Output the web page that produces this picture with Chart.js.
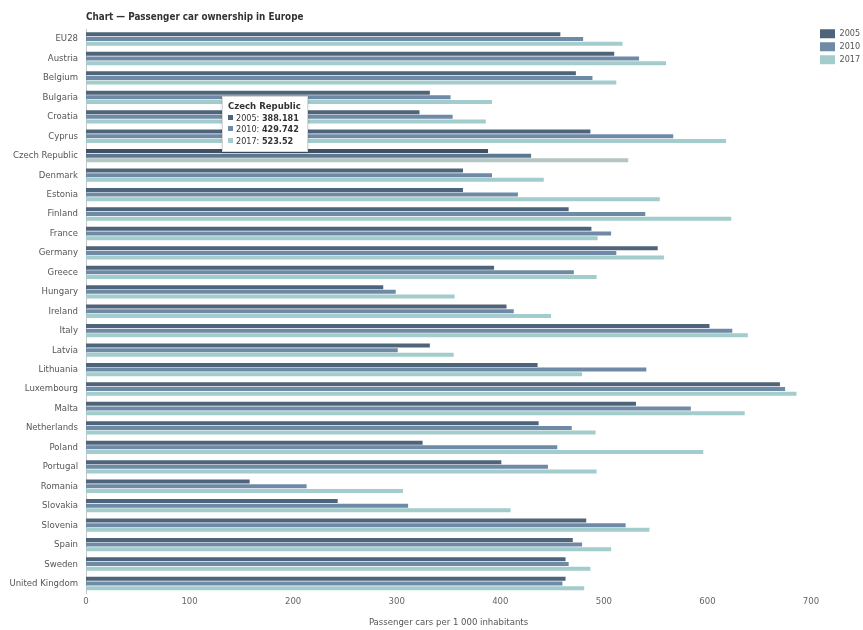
<!DOCTYPE html>
<html>
<head>
<meta charset="utf-8">
<script src="https://cdn.jsdelivr.net/npm/chart.js@4"></script>
<style>
  body { margin: 0; background: #fff; }
  #wrap { position: relative; width: 863px; height: 630px; }
  #tip {
    position: absolute; opacity: 0; pointer-events: none;
    background: #fff; border: 1px solid #d6d6d6; box-shadow: 0 1px 3px rgba(0,0,0,0.18);
    padding: 3px 6px 4px 5px; color: #333;
    font: 9px "DejaVu Sans Condensed", "Liberation Sans Narrow", sans-serif;
    line-height: 11.5px; white-space: nowrap;
  }
  #tip .ttl { font-weight: bold; font-size: 9.5px; margin-bottom: 1px; }
  #tip .sw { display: inline-block; width: 5px; height: 5px; margin-right: 3px; vertical-align: 1px; }
</style>
</head>
<body>
<div id="wrap"><canvas id="chart"></canvas><div id="tip"></div></div>
<script>
const countries = ['EU28', 'Austria', 'Belgium', 'Bulgaria', 'Croatia', 'Cyprus', 'Czech Republic',
  'Denmark', 'Estonia', 'Finland', 'France', 'Germany', 'Greece', 'Hungary', 'Ireland', 'Italy',
  'Latvia', 'Lithuania', 'Luxembourg', 'Malta', 'Netherlands', 'Poland', 'Portugal', 'Romania',
  'Slovakia', 'Slovenia', 'Spain', 'Sweden', 'United Kingdom'];
const cars2005 = [458, 510, 473, 332, 322, 487, 388.181, 364, 364, 466, 488, 552, 394, 287, 406, 602,
  332, 436, 670, 531, 437, 325, 401, 158, 243, 483, 470, 463, 463];
const cars2010 = [480, 534, 489, 352, 354, 567, 429.742, 392, 417, 540, 507, 512, 471, 299, 413, 624,
  301, 541, 675, 584, 469, 455, 446, 213, 311, 521, 479, 466, 460];
const cars2017 = [518, 560, 512, 392, 386, 618, 523.52, 442, 554, 623, 494, 558, 493, 356, 449, 639,
  355, 479, 686, 636, 492, 596, 493, 306, 410, 544, 507, 487, 481];
const seriesLabels = ['2005', '2010', '2017'];
const seriesColors = ['#4e647a', '#6e8aa6', '#a2cdcc'];
const hoverColors = ['#3f5163', '#5d7790', '#b3c5c4'];
const focusCountry = 'Czech Republic';

const fontFamily = '"DejaVu Sans Condensed", "Liberation Sans Narrow", sans-serif';
const legendPad = 4;
const rightGap = 52;   // space kept right of the plot for the legend

const titlePlugin = {
  id: 'sideTitle',
  afterLayout(chart) {
    // nudge the legend: a bit away from the plot, a bit higher
    const lg = chart.legend;
    if (lg) {
      lg.left += 5; lg.right += 5;
      lg.top -= 4; lg.bottom -= 4;
    }
  },
  afterDraw(chart) {
    const ctx = chart.ctx;
    ctx.save();
    ctx.font = 'bold 9.8px ' + fontFamily;
    ctx.fillStyle = '#333';
    ctx.textBaseline = 'middle';
    ctx.fillText('Chart \u2014 Passenger car ownership in Europe', chart.chartArea.left, 17);
    ctx.restore();
  }
};

function externalTip(context) {
  const tip = context.tooltip;
  const el = document.getElementById('tip');
  if (tip.opacity === 0) { el.style.opacity = 0; return; }
  const rows = tip.dataPoints.map(dp =>
    '<div><span class="sw" style="background:' + seriesColors[dp.datasetIndex] + '"></span>' +
    dp.dataset.label + ': <b>' + dp.formattedValue + '</b></div>').join('');
  el.innerHTML = '<div class="ttl">' + tip.title[0] + '</div>' + rows;
  const area = context.chart.chartArea;
  el.style.left = (area.left + 136) + 'px';
  el.style.top = (area.top + 67) + 'px';
  el.style.opacity = 1;
}

const seriesData = [cars2005, cars2010, cars2017];
const chart = new Chart(document.getElementById('chart'), {
  type: 'bar',
  data: {
    labels: countries,
    datasets: seriesLabels.map((label, i) => ({
      label: label,
      data: seriesData[i],
      backgroundColor: seriesColors[i],
      hoverBackgroundColor: hoverColors[i],
      borderWidth: 0,
      categoryPercentage: 0.72,
      barPercentage: 0.86
    }))
  },
  options: {
    indexAxis: 'y',
    responsive: true,
    maintainAspectRatio: false,
    animation: false,
    events: [],
    layout: { padding: { top: 29.3, left: 0, right: 0, bottom: 0 } },
    scales: {
      x: {
        min: 0, max: 700,
        ticks: { stepSize: 100, color: '#666', padding: 3, font: { family: fontFamily, size: 9.5 } },
        grid: { display: false, drawTicks: false },
        border: { display: false },
        title: {
          display: true, text: 'Passenger cars per 1 000 inhabitants', color: '#555',
          font: { family: fontFamily, size: 9.5 }, padding: { top: 6, bottom: 2 }
        },
        afterFit(s) { s.paddingRight = rightGap; }
      },
      y: {
        ticks: { color: '#555', padding: 8, font: { family: fontFamily, size: 9.5 } },
        grid: { display: false, drawTicks: false },
        border: { display: true, color: '#c8c8c8' },
        afterFit(s) { s.width = 86; }
      }
    },
    plugins: {
      title: { display: false },
      legend: {
        position: 'right',
        align: 'start',
        maxWidth: 45,
        labels: {
          boxWidth: 15, boxHeight: 9, padding: legendPad, color: '#555',
          font: { family: fontFamily, size: 9 }
        }
      },
      tooltip: { enabled: false, mode: 'index', intersect: false, external: externalTip }
    }
  },
  plugins: [titlePlugin]
});

const focusIndex = countries.indexOf(focusCountry);
const active = seriesLabels.map((_, i) => ({ datasetIndex: i, index: focusIndex }));
chart.setActiveElements(active);
chart.tooltip.setActiveElements(active, { x: 0, y: 0 });
chart.update();
</script>
</body>
</html>
